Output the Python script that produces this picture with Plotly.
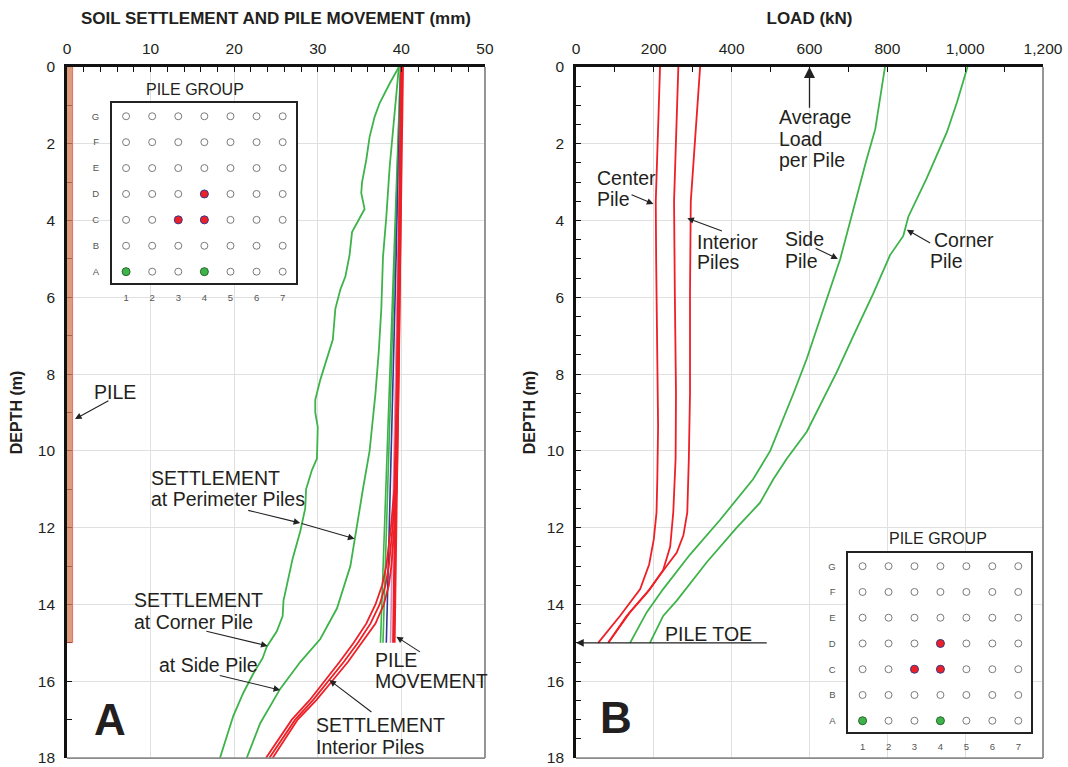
import plotly.graph_objects as go

# ---------------- Panel A : settlement / pile movement (mm) vs depth (m)
corner_settle_depth = [0, 0.43, 0.94, 1.3, 1.82, 2.42, 3.0, 3.28, 3.7, 4.07, 4.3, 4.9, 5.46, 5.8,
                       6.3, 7.1, 8.15, 8.67, 9.0, 9.38, 10.2, 10.5, 11.0, 11.5, 12.1, 12.8, 13.5,
                       13.9, 14.3, 14.7, 15.1, 15.4, 15.8, 16.3, 16.9, 18.0]
corner_settle = [39.7, 38.6, 37.4, 36.8, 36.2, 35.8, 35.3, 35.2, 35.6, 34.7, 34.1, 33.8, 33.3, 32.7,
                 32.1, 31.8, 30.3, 29.7, 29.7, 30.0, 29.9, 29.3, 28.6, 28.5, 27.9, 27.0, 26.3,
                 25.9, 25.8, 25.1, 23.9, 23.4, 22.3, 21.1, 19.9, 18.3]

side_settle_depth = [0, 1.2, 2.6, 3.9, 4.95, 6.3, 7.4, 8.5, 10.0, 11.0, 12.3, 13.0, 14.1, 14.9,
                     15.5, 16.2, 17.1, 18.0]
side_settle = [39.7, 39.2, 38.6, 38.2, 37.8, 37.6, 37.3, 36.9, 36.2, 35.4, 34.4, 33.9, 32.3, 30.3,
               27.9, 25.5, 23.1, 21.5]

interior_settle_depth = [0, 4, 8, 11, 12, 13, 13.5, 14, 14.5, 15, 15.5, 16, 16.5, 17, 17.5, 18]
interior_settle_1 = [40.0, 39.9, 39.7, 39.45, 39.15, 38.8, 38.5, 37.9, 36.9, 35.3, 33.6, 31.7,
                     29.8, 27.6, 26.1, 24.6]
interior_settle_2 = [40.0, 39.85, 39.6, 39.3, 38.95, 38.5, 38.1, 37.4, 36.3, 34.8, 33.1, 31.3,
                     29.4, 27.3, 25.7, 24.2]
interior_settle_3 = [39.95, 39.8, 39.5, 39.15, 38.75, 38.2, 37.7, 36.9, 35.8, 34.3, 32.6, 30.8,
                     29.0, 26.9, 25.3, 23.8]

pile_move_depth = [0, 15]
pile_move_corner = [39.9, 37.5]
pile_move_side = [39.9, 37.8]
pile_move_blue = [39.95, 38.2]
pile_move_pink = [40.0, 38.7]
pile_move_red = [40.1, 39.1]

pile_length = 15          # m
pile_x_center = 0.2       # mm (drawn pile strip)
pile_x_width = 1.1

# ---------------- Panel B : load (kN) vs depth (m)
center_load_depth = [0, 1.96, 3.5, 5.0, 7.6, 9.35, 10.74, 11.6, 12.3, 12.96, 13.6, 14.3, 15.0]
center_load = [216, 210, 205, 206, 209, 211, 209, 207, 200, 188, 165, 113, 57]

interior_a_depth = [0, 2, 3.5, 5.9, 8.5, 10.2, 11.6, 12.5, 13.1, 13.6, 14.2, 15.0]
interior_a_load = [263, 257, 252, 254, 257, 256, 250, 242, 224, 190, 139, 83]

interior_b_depth = [0, 1.8, 3.5, 5.9, 8.5, 10.2, 10.74, 11.6, 12.2, 12.65, 13.0, 13.35, 13.7,
                    14.3, 15.0]
interior_b_load = [319, 306, 295, 293, 293, 290, 289, 286, 276, 259, 233, 207, 182, 130, 83]

side_load_depth = [0, 1.62, 2.4, 3.7, 5.0, 6.3, 7.6, 8.5, 10.0, 10.74, 11.8, 12.7, 13.6, 14.2, 15.0]
side_load = [794, 769, 747, 713, 679, 636, 593, 559, 499, 455, 370, 293, 224, 182, 139]

corner_load_depth = [0, 0.92, 1.7, 2.9, 3.9, 4.15, 4.4, 4.9, 5.9, 7.0, 7.95, 9.5, 10.2, 10.74,
                     11.35, 12.0, 12.9, 13.9, 14.3, 15.0]
corner_load = [1006, 979, 953, 901, 854, 848, 841, 807, 764, 713, 670, 593, 542, 507,
               473, 413, 336, 259, 224, 190]

average_load = 600        # kN per pile
pile_toe_depth = 15       # m
pile_toe_line_end = 494   # kN

# ---------------- Pile group layout (7 x 7)
group_cols = [1, 2, 3, 4, 5, 6, 7]
group_rows = ["A", "B", "C", "D", "E", "F", "G"]
red_pile_cols = [4, 3, 4]
red_pile_rows = ["D", "C", "C"]
green_pile_cols = [1, 4]
green_pile_rows = ["A", "A"]

# ---------------- styling
FONT = "Liberation Sans, Arial, sans-serif"
TXT = "#231f20"
GREEN = "#3db34a"
RED = "#ee1f26"
BLUE = "#2e3a94"
PINK = "#d98cc0"
GRID = "#e0e0e0"
BORDER = "#8a8a8a"

fig = go.Figure()

# pile
fig.add_trace(go.Bar(x=[pile_x_center], y=[pile_length], base=0, width=pile_x_width,
                     marker=dict(color="rgba(212,130,84,0.78)", line=dict(color="#d94a4a", width=0.7)),
                     xaxis="x", yaxis="y", hoverinfo="skip"))

# pile movement lines
for xs, col, w in [(pile_move_corner, GREEN, 1.6), (pile_move_side, GREEN, 1.6),
                   (pile_move_blue, BLUE, 1.6), (pile_move_pink, PINK, 1.6),
                   (pile_move_red, RED, 3.5)]:
    fig.add_trace(go.Scatter(x=xs, y=pile_move_depth, mode="lines",
                             line=dict(color=col, width=w), xaxis="x", yaxis="y"))

# settlement curves
fig.add_trace(go.Scatter(x=corner_settle, y=corner_settle_depth, mode="lines",
                         line=dict(color=GREEN, width=1.8), xaxis="x", yaxis="y"))
fig.add_trace(go.Scatter(x=side_settle, y=side_settle_depth, mode="lines",
                         line=dict(color=GREEN, width=1.8), xaxis="x", yaxis="y"))
for xs in [interior_settle_1, interior_settle_2, interior_settle_3]:
    fig.add_trace(go.Scatter(x=xs, y=interior_settle_depth, mode="lines",
                             line=dict(color=RED, width=1.8), xaxis="x", yaxis="y"))

# Panel B load curves
for xs, ys, col in [(center_load, center_load_depth, RED), (interior_a_load, interior_a_depth, RED),
                    (interior_b_load, interior_b_depth, RED), (side_load, side_load_depth, GREEN),
                    (corner_load, corner_load_depth, GREEN)]:
    fig.add_trace(go.Scatter(x=xs, y=ys, mode="lines", line=dict(color=col, width=1.8),
                             xaxis="x2", yaxis="y2"))

# pile group insets
grid_x = [c for r in group_rows for c in group_cols]
grid_y = [r for r in group_rows for c in group_cols]
for xa, ya in [("x3", "y3"), ("x4", "y4")]:
    fig.add_trace(go.Scatter(x=grid_x, y=grid_y, mode="markers",
                             marker=dict(symbol="circle", size=7, color="white",
                                         line=dict(color="#7a7a7a", width=1)),
                             xaxis=xa, yaxis=ya))
    fig.add_trace(go.Scatter(x=red_pile_cols, y=red_pile_rows, mode="markers",
                             marker=dict(symbol="circle", size=8, color=RED,
                                         line=dict(color="#3a3a8a", width=1)),
                             xaxis=xa, yaxis=ya))
    fig.add_trace(go.Scatter(x=green_pile_cols, y=green_pile_rows, mode="markers",
                             marker=dict(symbol="circle", size=8, color=GREEN,
                                         line=dict(color="#2a6a30", width=1)),
                             xaxis=xa, yaxis=ya))

Y_DOM = [0.0117, 0.9127]
tickfont = dict(family=FONT, size=15.5, color=TXT)


def main_x(domain, rng, dtick, minor, title, anchor):
    return dict(domain=domain, range=rng, side="top", anchor=anchor, dtick=dtick, tick0=0,
                ticks="inside", ticklen=5, tickwidth=1.2, tickcolor="#111",
                minor=dict(dtick=minor, ticks="inside", ticklen=5, tickwidth=1.2,
                           tickcolor="#111", showgrid=False),
                showgrid=True, gridcolor=GRID, gridwidth=1.2, zeroline=False,
                showline=True, linecolor="#111", linewidth=2.5, tickfont=tickfont,
                ticklabelstandoff=4, separatethousands=True, tickformat=",d",
                automargin=False,
                title=dict(text=title, font=dict(family=FONT, size=17, color=TXT), standoff=12))


def main_y(minor, anchor, standoff):
    return dict(domain=Y_DOM, range=[18, 0], anchor=anchor, dtick=2, tick0=0,
                ticks="inside", ticklen=5, tickwidth=1.2, tickcolor="#111",
                minor=dict(dtick=minor, ticks="inside", ticklen=5, tickwidth=1.2,
                           tickcolor="#111", showgrid=False),
                showgrid=True, gridcolor=GRID, gridwidth=1.2, zeroline=False,
                showline=True, linecolor="#111", linewidth=2.5, tickfont=tickfont,
                ticklabelstandoff=6, layer="below traces", automargin=False,
                title=dict(text="<b>DEPTH (m)</b>", font=dict(family=FONT, size=16, color=TXT),
                           standoff=standoff))


def inset_x(domain, anchor):
    return dict(domain=domain, anchor=anchor, range=[0.45, 7.5], tickvals=group_cols,
                ticks="", showgrid=False, zeroline=False, showline=True, mirror=True,
                linecolor="#222", linewidth=1.5, ticklabelstandoff=5, automargin=False,
                tickfont=dict(family=FONT, size=9.5, color="#555"), fixedrange=True)


def inset_y(domain, anchor):
    return dict(domain=domain, anchor=anchor, range=[-0.45, 6.5], type="category",
                categoryorder="array", categoryarray=group_rows, automargin=False,
                ticks="", showgrid=False, zeroline=False, showline=True, mirror=True,
                linecolor="#222", linewidth=1.5, ticklabelstandoff=9,
                tickfont=dict(family=FONT, size=9.5, color="#555"), fixedrange=True)


fig.update_layout(
    width=1068, height=767, margin=dict(l=0, r=0, t=0, b=0, autoexpand=False),
    paper_bgcolor="white", plot_bgcolor="white", showlegend=False,
    font=dict(family=FONT, color=TXT), bargap=0,
    xaxis=main_x([0.0627, 0.4541], [0, 50], 10, 2,
                 "<b>SOIL SETTLEMENT AND PILE MOVEMENT (mm)</b>", "y"),
    yaxis=main_y(1, "x", 12),
    xaxis2=main_x([0.5393, 0.9766], [0, 1200], 200, 100, "<b>LOAD (kN)</b>", "y2"),
    yaxis2=main_y(0.5, "x2", 8),
    xaxis3=inset_x([0.1046, 0.2769], "y3"),
    yaxis3=inset_y([0.6306, 0.8653], "x3"),
    xaxis4=inset_x([0.7943, 0.9656], "y4"),
    yaxis4=inset_y([0.0452, 0.2786], "x4"),
)

# gray right / bottom frame lines
shapes = []
for xr, yr in [("x domain", "y domain"), ("x2 domain", "y2 domain")]:
    shapes.append(dict(type="line", xref=xr, yref=yr, x0=1, x1=1, y0=0, y1=1,
                       line=dict(color=BORDER, width=1.8), layer="above"))
    shapes.append(dict(type="line", xref=xr, yref=yr, x0=0, x1=1, y0=0, y1=0,
                       line=dict(color=BORDER, width=1.8), layer="above"))
fig.update_layout(shapes=shapes)

ann = []
AF = dict(family=FONT, size=19.5, color=TXT)


def text(x, y, s, xr="x", yr="y", anchor="left", font=AF):
    ann.append(dict(x=x, y=y, xref=xr, yref=yr, text=s, showarrow=False,
                    xanchor=anchor, yanchor="middle", font=font))


def arrow(x, y, ax, ay, xr="x", yr="y", size=1.2, width=1.1, head=2):
    ann.append(dict(x=x, y=y, ax=ax, ay=ay, xref=xr, yref=yr, axref=xr, ayref=yr,
                    text="", showarrow=True, arrowhead=head, arrowsize=size,
                    arrowwidth=width, arrowcolor="#222", standoff=0, startstandoff=0))


# Panel A texts
text(5.74, 8.47, "PILE", anchor="center")
arrow(0.96, 9.17, 5.14, 8.67)
text(9.8, 10.70, "SETTLEMENT")
text(9.8, 11.26, "at Perimeter Piles")
arrow(27.9, 11.88, 21.5, 11.54)
arrow(34.4, 12.29, 27.9, 11.88)
text(7.8, 13.88, "SETTLEMENT")
text(7.8, 14.45, "at Corner Pile")
arrow(24.0, 15.08, 16.5, 14.69)
text(10.8, 15.58, "at Side Pile")
arrow(25.5, 16.23, 18.1, 15.84)
text(36.6, 15.45, "PILE")
text(36.6, 16.0, "MOVEMENT")
arrow(39.4, 14.84, 42.4, 15.26)
text(29.5, 17.15, "SETTLEMENT")
text(29.5, 17.72, "Interior Piles")
arrow(31.4, 15.97, 36.6, 16.83)
text(5.2, 17.0, "<b>A</b>", anchor="center", font=dict(family=FONT, size=44, color=TXT))

# Panel B texts
arrow(average_load, 0, average_load, 1.1, "x2", "y2", size=1.7, width=1.3)
text(516, 1.31, "Average", "x2", "y2")
text(516, 1.88, "Load", "x2", "y2")
text(516, 2.42, "per Pile", "x2", "y2")
text(49, 2.90, "Center", "x2", "y2")
text(49, 3.44, "Pile", "x2", "y2")
arrow(199, 3.57, 139, 3.31, "x2", "y2")
text(306, 4.55, "Interior", "x2", "y2")
text(306, 5.09, "Piles", "x2", "y2")
arrow(286, 3.94, 379, 4.29, "x2", "y2")
text(531, 4.48, "Side", "x2", "y2")
text(531, 5.05, "Pile", "x2", "y2")
arrow(673, 5.0, 612, 4.70, "x2", "y2")
text(916, 4.51, "Corner", "x2", "y2")
text(904, 5.05, "Pile", "x2", "y2")
arrow(850, 4.24, 914, 4.61, "x2", "y2")
text(224, 14.78, "PILE TOE", "x2", "y2")
arrow(0, pile_toe_depth, pile_toe_line_end, pile_toe_depth, "x2", "y2", size=1.2, width=1.3)
text(103, 16.95, "<b>B</b>", "x2", "y2", anchor="center", font=dict(family=FONT, size=44, color=TXT))

# inset titles
for xr, yr, xx, sh in [("x3 domain", "y3 domain", 0.451, 14), ("x4 domain", "y4 domain", 0.488, 15)]:
    ann.append(dict(x=xx, y=1, xref=xr, yref=yr, text="PILE GROUP", showarrow=False,
                    xanchor="center", yanchor="middle", yshift=sh,
                    font=dict(family=FONT, size=16, color=TXT)))

fig.update_layout(annotations=ann)
fig.write_html("out.html")
